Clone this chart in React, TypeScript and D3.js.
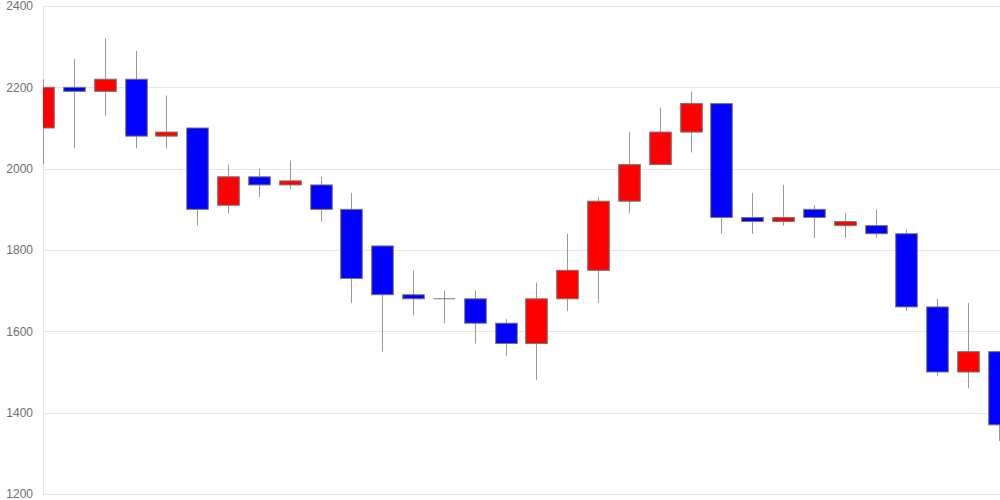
import React from "react";
import * as d3 from "d3";

const opens = [2100, 2200, 2190, 2220, 2080, 2100, 1910, 1980, 1960, 1960, 1900, 1810, 1690, 1680, 1680, 1620, 1570, 1680, 1750, 1920, 2010, 2090, 2160, 1880, 1870, 1900, 1860, 1860, 1840, 1660, 1500, 1550];
const closes = [2200, 2190, 2220, 2080, 2090, 1900, 1980, 1960, 1970, 1900, 1730, 1690, 1680, 1680, 1620, 1570, 1680, 1750, 1920, 2010, 2090, 2160, 1880, 1870, 1880, 1880, 1870, 1840, 1660, 1500, 1550, 1370];
const highs = [2220, 2270, 2320, 2290, 2180, 2100, 2010, 2000, 2020, 1980, 1940, 1810, 1750, 1700, 1700, 1630, 1720, 1840, 1930, 2090, 2150, 2190, 2160, 1940, 1960, 1910, 1890, 1900, 1850, 1680, 1670, 1550];
const lows = [2010, 2050, 2130, 2050, 2050, 1860, 1890, 1930, 1950, 1870, 1670, 1550, 1640, 1620, 1570, 1540, 1480, 1650, 1670, 1890, 2010, 2040, 1840, 1840, 1860, 1830, 1830, 1830, 1650, 1490, 1460, 1330];
const yTicks = [1200, 1400, 1600, 1800, 2000, 2200, 2400];

const W = 1000;
const H = 500;
const left = 43;
const right = 1000;
const top = 6;
const bottom = 494;

export default function App() {
  const idx = opens.map((_, i) => i);
  const x = d3.scalePoint<number>().domain(idx).range([left, right - 1]);
  const y = d3.scaleLinear().domain([1200, 2400]).range([bottom, top]);
  const step = x.step();
  const bw = step * 0.7;
  return (
    <svg width={W} height={H} style={{ position: "absolute", left: 0, top: 0, background: "#fff" }}>
      <defs>
        <clipPath id="plot">
          <rect x={left} y={0} width={right - left} height={H} />
        </clipPath>
      </defs>
      {yTicks.map((t) => (
        <g key={t}>
          <line x1={left} x2={right} y1={Math.round(y(t)) + 0.5} y2={Math.round(y(t)) + 0.5} stroke="#e6e6e6" />
          <text x={33} y={y(t)} dy="0.35em" textAnchor="end" fontFamily="Liberation Sans, Arial, sans-serif" fontSize={12} fill="#6e6e6e">
            {t}
          </text>
        </g>
      ))}
      <line x1={left + 0.5} x2={left + 0.5} y1={top} y2={bottom} stroke="#e6e6e6" />
      <g clipPath="url(#plot)">
        {idx.map((i) => {
          const cx = Math.round(x(i)!) + 0.5;
          const o = opens[i];
          const c = closes[i];
          const up = c > o;
          const flat = c === o;
          const yt = y(Math.max(o, c));
          const yb = y(Math.min(o, c));
          return (
            <g key={i}>
              <line x1={cx} x2={cx} y1={y(highs[i])} y2={y(lows[i])} stroke="#999" strokeWidth={1} />
              {flat ? (
                <line x1={cx - bw / 2} x2={cx + bw / 2} y1={yt} y2={yt} stroke="#777" strokeWidth={1} />
              ) : (
                <rect
                  x={cx - bw / 2}
                  y={yt}
                  width={bw}
                  height={Math.max(1, yb - yt)}
                  fill={up ? "#ff0000" : "#0000ff"}
                  stroke="#777"
                  strokeWidth={1}
                />
              )}
            </g>
          );
        })}
      </g>
    </svg>
  );
}
